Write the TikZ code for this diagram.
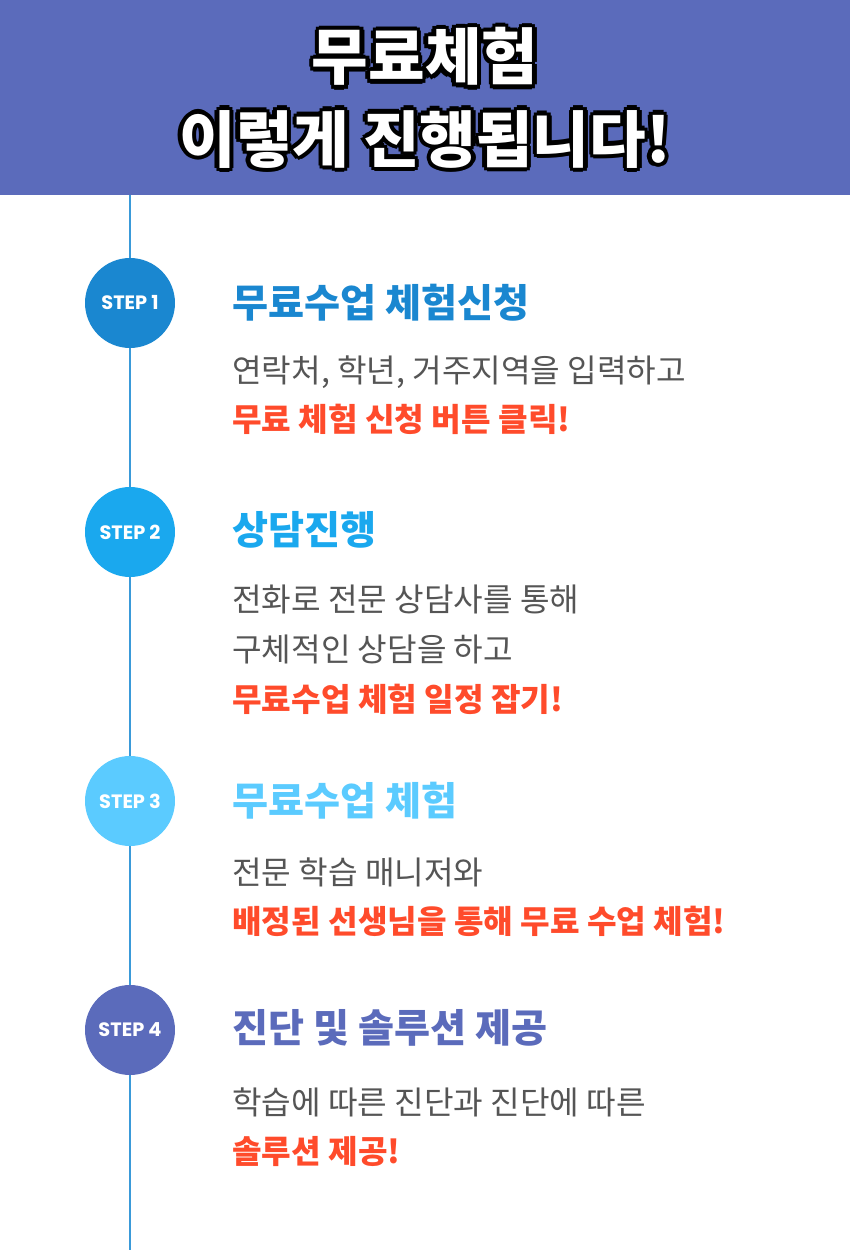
\documentclass[tikz,border=0pt]{standalone}
\usepackage{fontspec}
\setmainfont{Noto Sans CJK KR}
\newfontfamily\stepfont{Poppins}
\usetikzlibrary{positioning,calc}
\definecolor{headblue}{HTML}{5B6BBB}
\definecolor{lineblue}{HTML}{3A9AD9}
\definecolor{stepa}{HTML}{1A87D0}
\definecolor{stepb}{HTML}{1AA8EE}
\definecolor{stepc}{HTML}{5BCBFF}
\definecolor{stepd}{HTML}{5B6BBB}
\definecolor{bodygray}{HTML}{555555}
\definecolor{hotred}{HTML}{FF4B2B}
\newcommand{\outlined}[1]{%
  \foreach \dx/\dy in {-1/0,1/0,0/-1,0/1,-.7/-.7,.7/.7,-.7/.7,.7/-.7}
    \node[font=\bfseries\fontsize{35}{47}\selectfont,black,align=center]
      at ($(title)+(\dx*4.5,\dy*4.5)$) {#1};
  \node[font=\bfseries\fontsize{35}{47}\selectfont,white,align=center] at (title) {#1};}
\begin{document}
\begin{tikzpicture}[x=0.02cm,y=-0.02cm]
    % `stepdot' is the round STEP marker, `steptitle' and `stepbody' the texts.
    \tikzstyle{stepdot} = [circle,minimum size=1.8cm,inner sep=0pt,text=white,
                           font=\stepfont\bfseries\fontsize{11}{13}\selectfont]
    \tikzstyle{steptitle} = [anchor=west,inner sep=0pt,font=\bfseries\fontsize{22.3}{26}\selectfont]
    \tikzstyle{stepbody} = [anchor=north west,inner sep=0pt,align=left,text=bodygray,
                            font=\fontsize{18.3}{28.4}\selectfont]
    \useasboundingbox (0,0) rectangle (850,1250);
    % Header.
    \fill[headblue] (0,0) rectangle (850,195);
    \coordinate (title) at (425,98);
    \outlined{무료체험\\이렇게 진행됩니다!}
    % Time line.
    \coordinate (top) at (130,195);
    \coordinate (bottom) at (130,1250);
    \draw[lineblue,line width=1.5pt] (top) -- (bottom);
    % Steps.
    \node[stepdot,fill=stepa] (s1) at (130,303) {STEP 1};
    \node[stepdot,fill=stepb] (s2) at (130,532) {STEP 2};
    \node[stepdot,fill=stepc] (s3) at (130,801) {STEP 3};
    \node[stepdot,fill=stepd] (s4) at (130,1030) {STEP 4};
    %
    \node[steptitle,text=stepa] (t1) at (232,303) {무료수업 체험신청};
    \node[stepbody] (b1) at (232,355) {연락처, 학년, 거주지역을 입력하고\\
      \textcolor{hotred}{\bfseries 무료 체험 신청 버튼 클릭!}};
    \node[steptitle,text=stepb] (t2) at (232,530) {상담진행};
    \node[stepbody] (b2) at (232,585) {전화로 전문 상담사를 통해\\구체적인 상담을 하고\\
      \textcolor{hotred}{\bfseries 무료수업 체험 일정 잡기!}};
    \node[steptitle,text=stepc] (t3) at (232,801) {무료수업 체험};
    \node[stepbody] (b3) at (232,857) {전문 학습 매니저와\\
      \textcolor{hotred}{\bfseries 배정된 선생님을 통해 무료 수업 체험!}};
    \node[steptitle,text=stepd] (t4) at (232,1028) {진단 및 솔루션 제공};
    \node[stepbody] (b4) at (232,1087) {학습에 따른 진단과 진단에 따른\\
      \textcolor{hotred}{\bfseries 솔루션 제공!}};
\end{tikzpicture}
\end{document}
